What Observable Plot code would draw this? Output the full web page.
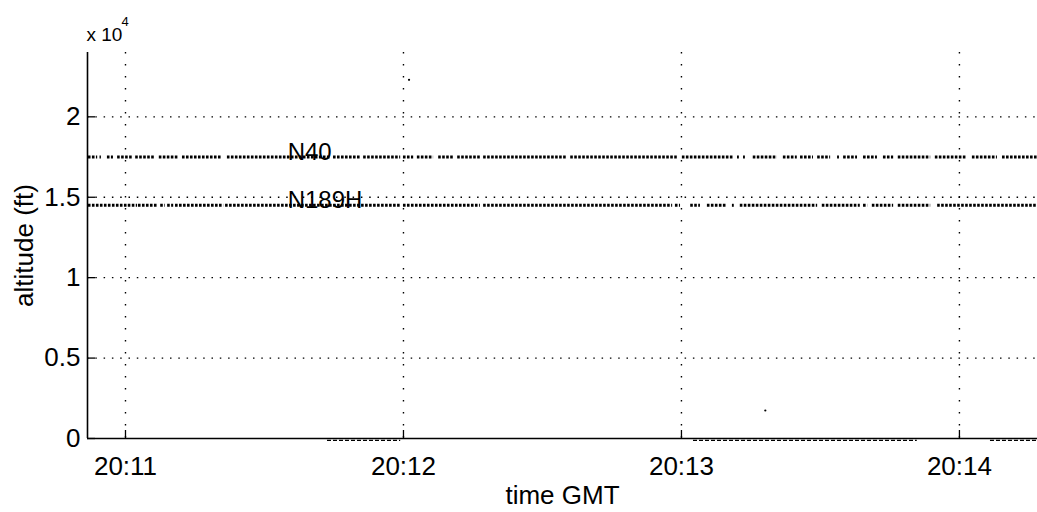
<!DOCTYPE html>
<html><head><meta charset="utf-8">
<script src="https://cdn.jsdelivr.net/npm/d3@7"></script>
<script src="https://cdn.jsdelivr.net/npm/@observablehq/plot@0.6"></script>
<style>body{margin:0;background:#fff}</style>
</head><body><div id="chart"></div>
<script>
// time is seconds after 20:11:00 GMT
const baseTime = Date.UTC(2003, 0, 1, 20, 11, 0);
const xDomainSec = [-8.2, 196.85];
const yDomain = [0, 24000];
const xTickLabels = ["20:11", "20:12", "20:13", "20:14"];
const yTicks = [0, 5000, 10000, 15000, 20000];
const yTickLabels = ["0", "0.5", "1", "1.5", "2"];

const n40Alt = 17500;
const n40Segments = [
  [-8.0,-6.0],[-5.5,-5.2],[-3.9,-2.6],[-1.7,1.5],[2.2,6.5],[7.3,11.4],[12.3,20.9],
  [22.0,44.2],[44.9,50.7],[51.4,59.4],[60.0,62.2],[63.0,66.5],[67.6,70.8],[71.7,76.6],
  [77.3,95.4],[96.1,119.1],[120.2,131.2],[132.1,132.5],[133.4,133.8],[135.5,140.7],
  [142.0,145.0],[145.7,148.5],[149.4,152.2],[153.7,154.1],[155.0,158.0],[159.3,162.3],
  [163.6,165.8],[166.8,173.8],[174.8,181.7],[182.8,188.2],[189.3,196.8]
];
const n189hAlt = 14500;
const n189hSegments = [
  [-8.0,0.4],[0.6,2.6],[2.8,6.9],[7.6,8.6],[9.1,10.4],[10.8,21.2],[21.6,59.4],
  [60.0,76.6],[77.3,118.1],[118.7,119.8],[122.0,124.1],[125.6,129.9],[131.0,131.4],
  [132.7,149.4],[150.4,158.6],[159.3,160.2],[161.2,165.8],[166.8,173.8],[175.3,196.8]
];
const groundAlt = -120;
const groundSegments = [[43.6,59.4],[122.6,170.9],[186.7,196.8]];
const strayPoints = [[61.2, 22300], [138.1, 1740]];
const trackLabels = [
  {name: "N40", t: 35.0, alt: 17500},
  {name: "N189H", t: 35.0, alt: 14500}
];

const toDate = s => new Date(baseTime + s * 1000);
const xTicks = xTickLabels.map(l => {
  const [h, m] = l.split(":").map(Number);
  return new Date(Date.UTC(2003, 0, 1, h, m, 0));
});
const xDomain = xDomainSec.map(toDate);
const seg = (arr, alt) => arr.map(([a, b]) => ({x1: toDate(a), x2: toDate(b), alt}));
const tracks = [...seg(n40Segments, n40Alt), ...seg(n189hSegments, n189hAlt)];
const ground = seg(groundSegments, groundAlt);
const stray = strayPoints.map(([t, a]) => ({t: toDate(t), alt: a}));
const labs = trackLabels.map(d => ({...d, time: toDate(d.t)}));

const chart = Plot.plot({
  width: 1037,
  height: 512,
  marginLeft: 87,
  marginRight: 0,
  marginTop: 52,
  marginBottom: 74,
  style: {fontFamily: "'Liberation Sans', Arial, Helvetica, sans-serif", fontSize: "26px", color: "black", background: "white"},
  x: {type: "utc", domain: xDomain, label: null},
  y: {domain: yDomain, label: null},
  marks: [
    Plot.gridY(yTicks.slice(1), {stroke: "black", strokeOpacity: 1, strokeWidth: 1.4, strokeDasharray: "1.5,6.8"}),
    Plot.gridX(xTicks, {stroke: "black", strokeOpacity: 1, strokeWidth: 1.4, strokeDasharray: "1.5,10.5"}),
    Plot.ruleY(ground, {y: "alt", x1: "x1", x2: "x2", stroke: "black", strokeWidth: 1.2, strokeDasharray: "4,2"}),
    Plot.ruleY(tracks, {y: "alt", x1: "x1", x2: "x2", stroke: "black", strokeWidth: 3, strokeDasharray: "2.6,1.4"}),
    Plot.dot(stray, {x: "t", y: "alt", r: 1.1, fill: "black", stroke: null}),
    Plot.text(labs, {x: "time", y: "alt", text: "name", textAnchor: "start", lineAnchor: "bottom", dy: 3, fontSize: 24, fill: "black"}),
    Plot.ruleY([yDomain[0]], {stroke: "black", strokeWidth: 1.6}),
    Plot.ruleX([xDomain[0]], {stroke: "black", strokeWidth: 1.6}),
    Plot.axisY(yTicks, {tickSize: -8, tickPadding: 15, fontSize: 26, strokeWidth: 1.3, label: null,
      tickFormat: d => yTickLabels[yTicks.indexOf(d)]}),
    Plot.axisX(xTicks, {tickSize: -8, tickPadding: 26, fontSize: 26, strokeWidth: 1.3, label: null,
      tickFormat: d => xTickLabels[xTicks.findIndex(t => +t === +d)]}),
    Plot.text(["x 10"], {frameAnchor: "top-left", textAnchor: "start", lineAnchor: "bottom", dy: -12, dx: -1, fontSize: 19, fill: "black"}),
    Plot.text(["4"], {frameAnchor: "top-left", textAnchor: "start", lineAnchor: "bottom", dy: -27, dx: 34, fontSize: 13, fill: "black"}),
    Plot.text(["altitude (ft)"], {frameAnchor: "left", rotate: -90, textAnchor: "middle", lineAnchor: "middle", dx: -63, fontSize: 26, fill: "black"}),
    Plot.text(["time GMT"], {frameAnchor: "bottom", textAnchor: "middle", lineAnchor: "middle", dy: 57, fontSize: 26, fill: "black"})
  ]
});
document.getElementById("chart").appendChild(chart);
</script>
</body></html>
